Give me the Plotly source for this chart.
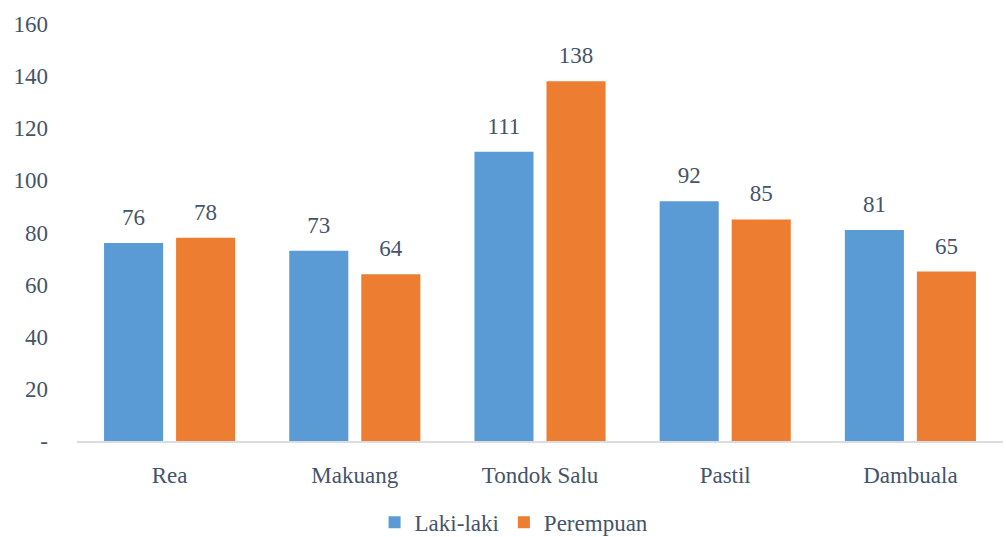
import plotly.graph_objects as go

categories = ["Rea", "Makuang", "Tondok Salu", "Pastil", "Dambuala"]
laki_laki = [76, 73, 111, 92, 81]
perempuan = [78, 64, 138, 85, 65]
y_tick_vals = [0, 20, 40, 60, 80, 100, 120, 140, 160]
y_tick_text = ["-", "20", "40", "60", "80", "100", "120", "140", "160"]

FONT = "Liberation Serif"
TXT = "#44546a"
SIZE = 23
BARGAP = 0.222

series = [("Laki-laki", laki_laki, "#5b9bd5"), ("Perempuan", perempuan, "#ed7d31")]

fig = go.Figure()
for name, vals, col in series:
    fig.add_trace(go.Bar(
        name=name, x=categories, y=vals, offsetgroup=name,
        marker=dict(color=col, line=dict(width=0)),
    ))
for name, vals, col in series:
    fig.add_trace(go.Scatter(
        x=categories, y=vals, offsetgroup=name, mode="markers+text",
        text=[str(v) for v in vals], textposition="top center",
        marker=dict(size=18, opacity=0), cliponaxis=False,
        textfont=dict(family=FONT, size=SIZE, color=TXT),
        showlegend=False, hoverinfo="skip",
    ))

fig.update_layout(
    width=1006, height=537,
    margin=dict(l=77, r=3, t=24, b=96, autoexpand=False),
    paper_bgcolor="white", plot_bgcolor="white",
    barmode="group", bargap=BARGAP, bargroupgap=0.18,
    scattermode="group", scattergap=BARGAP,
    font=dict(family=FONT, size=SIZE, color=TXT),
    showlegend=True,
    legend=dict(orientation="h", x=0.472, xanchor="center", y=-0.195, yanchor="middle",
                font=dict(family=FONT, size=SIZE, color=TXT), itemwidth=30),
    xaxis=dict(showline=True, linecolor="#d9dde3", linewidth=2, ticks="", automargin=False,
               ticklabelstandoff=12,
               tickfont=dict(family=FONT, size=SIZE, color=TXT)),
    yaxis=dict(range=[0, 160], tickvals=y_tick_vals, ticktext=y_tick_text,
               showgrid=False, zeroline=False, showline=False, ticks="", automargin=False,
               ticklabelstandoff=28,
               tickfont=dict(family=FONT, size=SIZE, color=TXT)),
)

fig.write_html("out.html", config={"displayModeBar": False},
               post_script="document.body.style.margin='0';")
